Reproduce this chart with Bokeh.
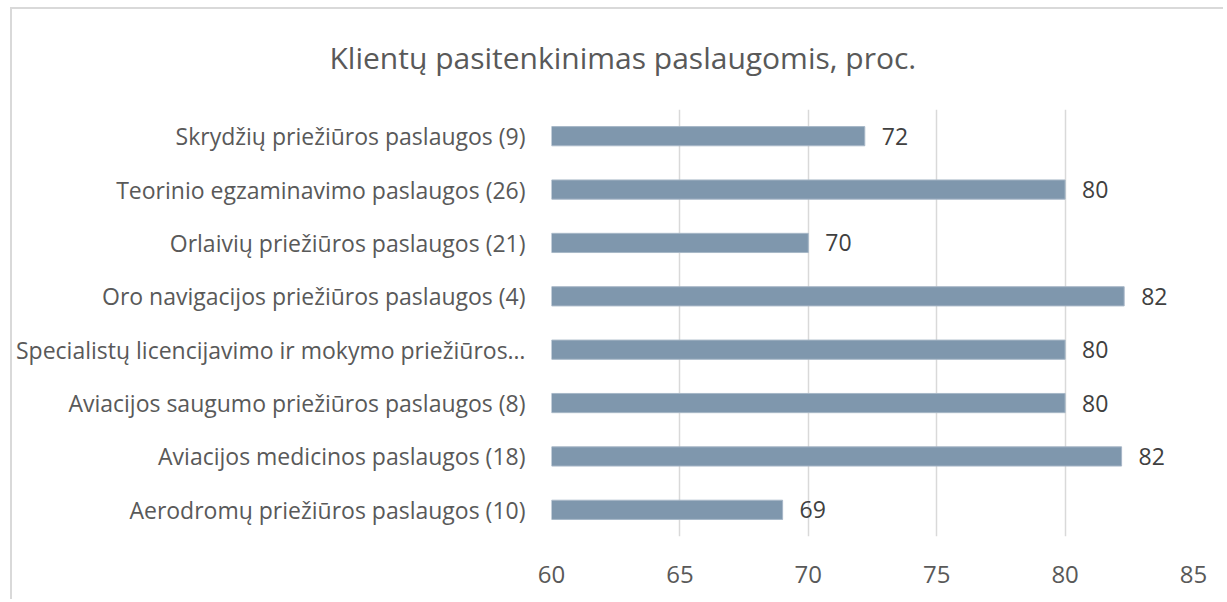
from bokeh.plotting import figure
from bokeh.models import FactorRange, Range1d, Title, ColumnDataSource, FixedTicker
from bokeh.core.properties import value
from bokeh.embed import file_html
from bokeh.resources import INLINE

title_text = "Klientų pasitenkinimas paslaugomis, proc."
categories = [
    "Skrydžių priežiūros paslaugos (9)",
    "Teorinio egzaminavimo paslaugos (26)",
    "Orlaivių priežiūros paslaugos (21)",
    "Oro navigacijos priežiūros paslaugos (4)",
    "Specialistų licencijavimo ir mokymo priežiūros…",
    "Aviacijos saugumo priežiūros paslaugos (8)",
    "Aviacijos medicinos paslaugos (18)",
    "Aerodromų priežiūros paslaugos (10)",
]
values = [72.2, 80.0, 70.0, 82.3, 80.0, 80.0, 82.2, 69.0]
labels = ["72", "80", "70", "82", "80", "80", "82", "69"]
x_ticks = [60, 65, 70, 75, 80, 85]

FONT = "Open Sans"
src = ColumnDataSource(dict(cat=categories, val=values, lab=labels))

p = figure(
    width=1213, height=592,
    y_range=FactorRange(factors=list(reversed(categories)), range_padding=0),
    x_range=Range1d(60, 85),
    output_backend="svg", toolbar_location=None,
    min_border_left=539, min_border_right=32, min_border_top=96, min_border_bottom=65,
)
p.styles = {"border-left": "2px solid #d9d9d9", "border-top": "2px solid #d9d9d9",
            "margin-left": "10px", "margin-top": "7px"}
p.outline_line_color = None
p.background_fill_color = "white"
p.border_fill_color = "white"

p.hbar(y="cat", left=60, right="val", height=0.36, source=src,
       fill_color="#7f97ad", line_color="#a7b7c7", line_width=1)
p.text(x="val", y="cat", text="lab", source=src, x_offset=17,
       text_baseline="middle", text_align="left",
       text_font=value(FONT), text_font_size="23px", text_color="#404040")

p.xgrid.grid_line_color = "#d9d9d9"
p.xgrid.grid_line_width = 1.5
p.ygrid.grid_line_color = None

p.xaxis.ticker = FixedTicker(ticks=x_ticks)
p.xaxis.axis_line_color = None
p.xaxis.major_tick_line_color = None
p.xaxis.minor_tick_line_color = None
p.xaxis.major_label_standoff = 23
p.xaxis.major_label_text_font = FONT
p.xaxis.major_label_text_font_size = "24px"
p.xaxis.major_label_text_color = "#595959"

p.yaxis.axis_line_color = None
p.yaxis.major_tick_line_color = None
p.yaxis.minor_tick_line_color = None
p.yaxis.major_label_standoff = 20
p.yaxis.major_label_text_font = FONT
p.yaxis.major_label_text_font_size = "23px"
p.yaxis.major_label_text_color = "#595959"

p.add_layout(Title(text=" ", text_font_size="4px", standoff=0), "above")
p.add_layout(Title(text=title_text, align="left", offset=-222,
                   text_font=FONT, text_font_size="30px", text_font_style="normal",
                   text_color="#595959", standoff=50), "above")

open("out.html", "w").write(file_html(p, INLINE))
